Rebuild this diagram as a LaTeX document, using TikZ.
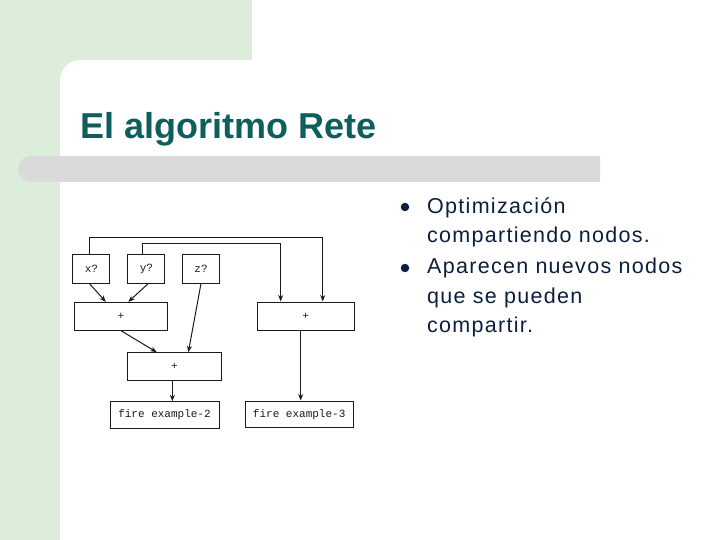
\documentclass[tikz,border=0pt]{standalone}
\usepackage{fontspec}
\setmainfont{Liberation Sans}
\newfontfamily\mono{Liberation Mono}
\newfontfamily\cuerpo[LetterSpace=6]{Liberation Sans}
\usetikzlibrary{arrows.meta,positioning}
\definecolor{verde}{HTML}{DCEDDC}
\definecolor{gris}{HTML}{DADADA}
\definecolor{tituloc}{HTML}{0E5E5C}
\definecolor{textoc}{HTML}{0B1F3D}
\definecolor{linea}{HTML}{1A1A1A}

\begin{document}
\begin{tikzpicture}[x=1bp,y=-1bp,
    caja/.style={draw=linea,line width=1bp,inner sep=0pt,font=\mono\fontsize{11bp}{12bp}\selectfont,text=linea},
    flecha/.style={draw=linea,line width=1bp,-{Stealth[length=6.5bp,width=5bp]}},
    item/.style={align=left,inner sep=0pt,text=textoc,font=\cuerpo\fontsize{21.5bp}{29.5bp}\selectfont},
    bala/.style={circle,fill=textoc,inner sep=0pt,minimum size=8.5bp}]
  \useasboundingbox (0,0) rectangle (720,540);
  \fill[verde] (0,0) rectangle (252,60);
  \fill[verde] (0,0) rectangle (60,540);
  \fill[verde] (60,60) -- (80,60) arc[start angle=270,end angle=180,radius=20] -- cycle;
  \fill[gris] (600,156) -- (31,156) arc[start angle=270,end angle=90,radius=13] -- (600,182) -- cycle;
  \node[anchor=base west,inner sep=0pt,text=tituloc,font=\bfseries\fontsize{36bp}{40bp}\selectfont] (titulo) at (80,139) {El algoritmo Rete};

  \foreach \n/\x in {x/91.35,y/146.35,z/201}
    \node[caja,minimum width=37bp,minimum height=28bp] (q\n) at (\x,269) {\n?};
  \node[caja,minimum width=93bp,minimum height=27.7bp] (suma1) at (120.8,316.2) {+};
  \node[caja,minimum width=96.7bp,minimum height=28bp] (suma3) at (305.7,316) {+};
  \node[caja,minimum width=93.3bp,minimum height=27.3bp] (suma2) at (174.35,366.35) {+};
  \node[caja,minimum width=109bp,minimum height=26.7bp] (fire2) at (164.5,415) {fire example-2};
  \node[caja,minimum width=108.3bp,minimum height=26.7bp] (fire3) at (299.2,414.35) {fire example-3};

  \draw[flecha] ([xshift=-2bp]qx.north) -- ([xshift=-2bp]qx.north |- 0,237.3) -| ([xshift=17bp]suma3.north);
  \draw[flecha] ([xshift=-3.6bp]qy.north) -- ([xshift=-3.6bp]qy.north |- 0,244) -| ([xshift=-25bp]suma3.north);
  \draw[flecha] ([xshift=-2bp]qx.south) -- ([xshift=-15bp]suma1.north);
  \draw[flecha] ([xshift=2bp]qy.south) -- ([xshift=7.5bp]suma1.north);
  \draw[flecha] (qz.south) -- ([xshift=14bp]suma2.north);
  \draw[flecha] (suma1.south) -- ([xshift=-17.6bp]suma2.north);
  \draw[flecha] ([xshift=-2bp]suma2.south) -- ([xshift=-2bp]suma2.south |- fire2.north);
  \draw[flecha] ([xshift=-5bp]suma3.south) -- ([xshift=-5bp]suma3.south |- fire3.north);

  \node[bala] (b1) at (405,207) {};
  \node[bala] (b2) at (405,268) {};
  \node[item,anchor=north west] (it1) at (427,197) {Optimización\\compartiendo nodos.};
  \node[item,anchor=north west] (it2) at (427,258) {Aparecen nuevos nodos\\que se pueden\\compartir.};
\end{tikzpicture}
\end{document}
